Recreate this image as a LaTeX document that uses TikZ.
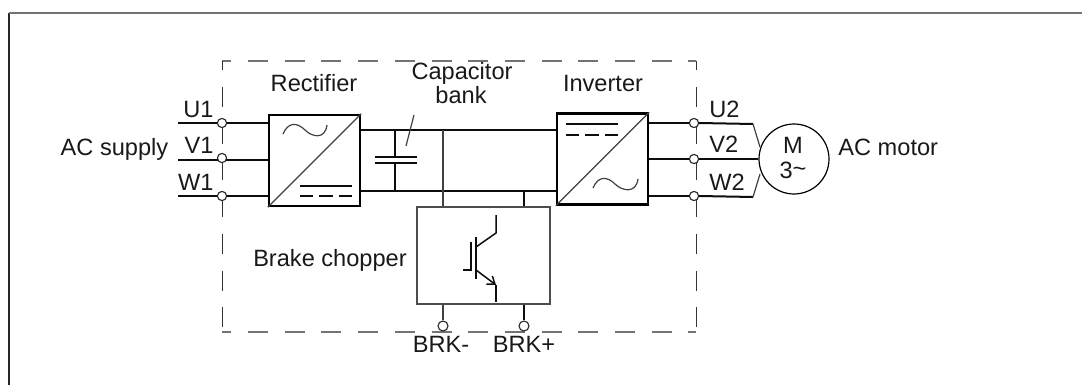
\documentclass[tikz,border=0pt]{standalone}
\usepackage{fontspec}
\setmainfont{Liberation Sans}
\usetikzlibrary{arrows.meta}
\tikzset{
    wirethick/.style={line width=1pt,black!95},
    wirethin/.style={line width=0.6pt,black!75},
    igbtwire/.style={line width=0.75pt,black!95},
    dcdash/.style={line width=1pt,black!95,dash pattern=on 6.6pt off 3.1pt},
    convbox/.style={draw,line width=1.15pt,minimum width=45.5pt,minimum height=45.5pt,inner sep=0pt},
    chopbox/.style={draw,black!70,line width=0.65pt,minimum width=66.5pt,minimum height=48.5pt,inner sep=0pt},
    terminal/.style={circle,draw=black!85,fill=white,line width=0.55pt,minimum size=4.6pt,inner sep=0pt},
    motorbox/.style={circle,draw,fill=white,line width=0.6pt,minimum size=35pt,inner sep=0pt},
    lbl/.style={font=\fontsize{11.8}{12}\selectfont,inner sep=0pt,text=black!90},
    framedashh/.style={line width=0.65pt,black!55,dash pattern=on 10pt off 8.35pt,dash phase=5.35pt},
    framedashv/.style={line width=0.5pt,black!80,dash pattern=on 10pt off 8.35pt,dash phase=5.35pt}
}
\begin{document}
\begin{tikzpicture}[x=0.5pt,y=-0.5pt]
        \newcommand{\figtopbus}{130}
        \newcommand{\figbotbus}{191}
        \newcommand{\figinx}{222}
        \newcommand{\figoutx}{694}
        \newcommand{\figcapx}{395}
        \newcommand{\figbrkax}{443}
        \newcommand{\figbrkbx}{524}
        \useasboundingbox (0,0) rectangle (1082,385);
        % outer frame and dashed enclosure
        \draw[line width=0.8pt,black!85] (9,385) -- (9,13);
        \draw[line width=0.8pt,black!55] (9,13) -- (1082,13);
        \draw[framedashh] (222,61) -- (696,61);
        \draw[framedashh] (222,332) -- (696,332);
        \draw[framedashv] (222,61) -- (222,332);
        \draw[framedashv] (696,61) -- (696,332);
        % blocks
        \node[convbox] (rect) at (314.5,160.5) {};
        \node[convbox] (inv) at (602.5,159) {};
        \node[chopbox] (chop) at (483.5,255.5) {};
        \draw[wirethin] (rect.south west) -- (rect.north east);
        \draw[wirethin] (inv.south west) -- (inv.north east);
        % supply side
        \node[terminal] (tu1) at (\figinx,123) {};
        \node[terminal] (tw1) at (\figinx,196) {};
        \coordinate (su) at (178,123);
        \coordinate (sv) at (178,160);
        \coordinate (sw) at (178,196);
        \draw[wirethick] (su) -- (tu1) -- (rect.west |- tu1);
        \draw[wirethick] (sv) -- (rect.west |- sv);
        \draw[wirethick] (sw) -- (tw1) -- (rect.west |- tw1);
        \node[terminal] (tv1) at (\figinx,158) {};
        % dc bus
        \coordinate (bta) at (rect.east |- 0,\figtopbus);
        \coordinate (btb) at (inv.west |- 0,\figtopbus);
        \coordinate (bba) at (rect.east |- 0,\figbotbus);
        \coordinate (bbb) at (inv.west |- 0,\figbotbus);
        \draw[wirethick] (bta) -- (btb);
        \draw[wirethick] (bba) -- (bbb);
        % capacitor
        \coordinate (capt) at (\figcapx,157);
        \coordinate (capb) at (\figcapx,163);
        \draw[wirethick] (\figcapx,\figtopbus) -- (capt);
        \draw[wirethick] (capb) -- (\figcapx,\figbotbus);
        \draw[wirethick] (375,157) -- (417,157);
        \draw[wirethick] (375,163) -- (417,163);
        \draw[wirethin] (414,115) -- (406,146);
        % chopper links
        \draw[wirethin] (\figbrkax,\figtopbus) -- (chop.north -| \figbrkax,0);
        \draw[wirethick] (\figbrkbx,\figbotbus) -- (chop.north -| \figbrkbx,0);
        \node[terminal,minimum size=5pt] (brka) at (\figbrkax,326) {};
        \node[terminal,minimum size=5pt] (brkb) at (\figbrkbx,326) {};
        \draw[wirethin] (chop.south -| brka) -- (brka);
        \draw[wirethick] (chop.south -| brkb) -- (brkb);
        % motor side
        \node[motorbox] (motor) at (794,159) {};
        \node[terminal] (tu2) at (\figoutx,123) {};
        \node[terminal] (tv2) at (\figoutx,159) {};
        \node[terminal] (tw2) at (\figoutx,196) {};
        \coordinate (ku) at (753,124);
        \coordinate (kw) at (753,197);
        \coordinate (mu) at (760,147);
        \coordinate (mw) at (760,174);
        \draw[wirethick] (inv.east |- tu2) -- (tu2.west);
        \draw[wirethick] (inv.east |- tv2) -- (tv2.west);
        \draw[wirethick] (inv.east |- tw2) -- (tw2.west);
        \draw[wirethick] (tu2.east) -- (ku);
        \draw[wirethin] (ku) -- (mu);
        \draw[wirethick] (tv2.east) -- (motor.west);
        \draw[wirethick] (tw2.east) -- (kw);
        \draw[wirethin] (kw) -- (mw);
        % converter symbols
        \draw[wirethin] (283,134) .. controls (288,122) and (297,122) .. (305,130) .. controls (312,137) and (325,140) .. (327,125);
        \draw[wirethick] (300,186) -- (352,186);
        \draw[dcdash] (300,196) -- (352,196);
        \draw[wirethick] (566,124) -- (618,124);
        \draw[dcdash] (566,135) -- (618,135);
        \draw[wirethin] (593,188) .. controls (598,176) and (607,176) .. (615,184) .. controls (622,191) and (636,194) .. (638,179);
        % transistor
        \draw[wirethick] (476,237) -- (476,279);
        \draw[igbtwire] (471,242) -- (471,270) -- (463,270);
        \draw[igbtwire] (496,215) -- (496,233) -- (476,247);
        \draw[igbtwire,-{Straight Barb[length=3.5pt,width=5pt]}] (476,270) -- (496,285);
        \draw[igbtwire] (496,285) -- (496,302);
        % labels
        \node[lbl] (lrect) at (314,83) {Rectifier};
        \node[lbl] (lcapa) at (462,73) {Capacitor};
        \node[lbl] (lcapb) at (461,95) {bank};
        \node[lbl] (linv) at (603,83) {Inverter};
        \node[lbl] (lsup) at (114.5,149) {AC supply};
        \node[lbl,anchor=east] (lu1) at (214,109) {U1};
        \node[lbl,anchor=east] (lv1) at (214,145) {V1};
        \node[lbl,anchor=east] (lw1) at (214,182) {W1};
        \node[lbl,anchor=west] (lu2) at (709,109) {U2};
        \node[lbl,anchor=west] (lv2) at (709,144) {V2};
        \node[lbl,anchor=west] (lw2) at (709,182) {W2};
        \node[lbl] (lm) at (793,145) {M};
        \node[lbl] (lm3) at (793,170) {3\raisebox{1pt}{\textasciitilde}};
        \node[lbl,anchor=west] (lmot) at (838,147) {AC motor};
        \node[lbl] (lchop) at (330,260) {Brake chopper};
        \node[lbl] (lbrka) at (441,344) {BRK-};
        \node[lbl] (lbrkb) at (524,344) {BRK+};
    \end{tikzpicture}
\end{document}
